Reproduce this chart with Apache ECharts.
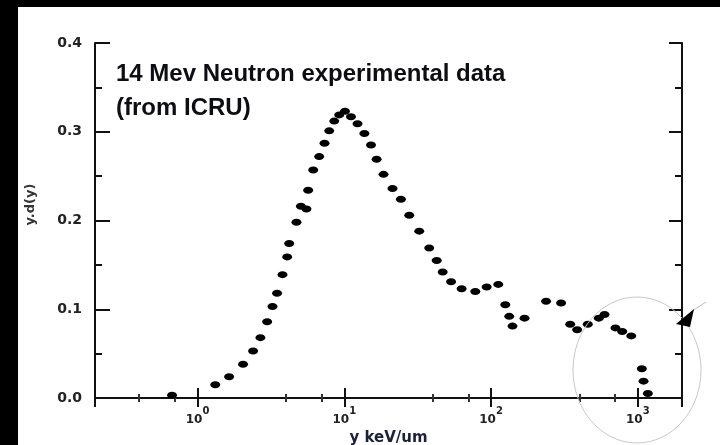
<!DOCTYPE html>
<html>
<head>
<meta charset="utf-8">
<script src="https://cdn.jsdelivr.net/npm/echarts@6/dist/echarts.min.js"></script>
<style>
  html, body { margin: 0; padding: 0; background: #000; }
  #chart { width: 720px; height: 445px; }
</style>
</head>
<body>
<div id="chart"></div>
<script>
// lineal energy y (keV/um)
var lineal = [0.67, 1.32, 1.64, 2.04, 2.39, 2.68, 2.98, 3.24, 3.48, 3.79,
  4.08, 4.21, 4.72, 5.06, 5.52, 5.67, 6.14, 6.74, 7.33, 7.89,
  8.54, 9.23, 10.1, 11.1, 12.3, 13.7, 15.2, 16.6, 18.5, 21.3,
  24.3, 27.7, 32.4, 37.9, 42.6, 46.8, 53.4, 63.0, 78.1, 93.3,
  112, 125, 133, 140, 169, 237, 300, 346, 386, 456,
  542, 593, 704, 783, 902, 1065, 1094, 1170];
// y.d(y)
var ydy = [0.003, 0.015, 0.024, 0.038, 0.053, 0.068, 0.086, 0.103, 0.118, 0.139,
  0.159, 0.174, 0.198, 0.216, 0.213, 0.234, 0.257, 0.272, 0.287, 0.301,
  0.312, 0.319, 0.323, 0.317, 0.309, 0.298, 0.285, 0.269, 0.252, 0.236,
  0.224, 0.206, 0.188, 0.169, 0.155, 0.142, 0.131, 0.123, 0.120, 0.125,
  0.128, 0.105, 0.092, 0.081, 0.090, 0.109, 0.107, 0.083, 0.077, 0.083,
  0.090, 0.094, 0.079, 0.075, 0.070, 0.033, 0.019, 0.005];

var titleText = '14 Mev Neutron experimental data\n(from ICRU)';

var points = lineal.map(function (x, i) { return [x, ydy[i]]; });

var chart = echarts.init(document.getElementById('chart'));

function decadeLabel(v) {
  var e = Math.log10(v);
  var r = Math.round(e);
  if (Math.abs(e - r) > 1e-6) return '';
  return '{b|10}{s|' + r + '}';
}

var axisLineStyle = { color: '#111', width: 2 };
var font = 'DejaVu Sans';

chart.setOption({
  backgroundColor: '#000',
  animation: false,
  title: {
    text: titleText,
    left: 111,
    top: 52,
    textStyle: {
      fontFamily: 'Liberation Sans',
      fontWeight: 'bold',
      fontSize: 24,
      lineHeight: 34,
      color: '#0d0d14'
    }
  },
  grid: { left: 95, right: 38, top: 43, bottom: 47, outerBoundsMode: 'none', containLabel: false },
  xAxis: [
    {
      type: 'log',
      logBase: 10,
      min: 0.2,
      max: 2000,
      name: 'y keV/um',
      nameLocation: 'middle',
      nameGap: 32,
      nameTextStyle: { fontFamily: font, fontWeight: 'bold', fontSize: 15, color: '#1b2238' },
      axisLine: { lineStyle: axisLineStyle },
      axisTick: { inside: true, length: 10, lineStyle: { color: '#111', width: 2 } },
      minorTick: { show: true, splitNumber: 3, length: 4, lineStyle: { color: '#333', width: 2 } },
      splitLine: { show: false },
      axisLabel: {
        margin: 8,
        formatter: decadeLabel,
        rich: {
          b: { fontFamily: font, fontWeight: 'bold', fontSize: 12, color: '#222', lineHeight: 20, verticalAlign: 'bottom' },
          s: { fontFamily: font, fontWeight: 'bold', fontSize: 10, color: '#222', lineHeight: 12, verticalAlign: 'top' }
        }
      }
    },
    {
      type: 'log',
      logBase: 10,
      min: 0.2,
      max: 2000,
      position: 'top',
      axisLine: { lineStyle: axisLineStyle },
      axisTick: { inside: true, length: 9, lineStyle: { color: '#111', width: 2 } },
      minorTick: { show: true, splitNumber: 3, length: 4, lineStyle: { color: '#333', width: 2 } },
      splitLine: { show: false },
      axisLabel: { show: false }
    }
  ],
  yAxis: [
    {
      type: 'value',
      min: 0,
      max: 0.4,
      interval: 0.1,
      name: 'y.d(y)',
      nameLocation: 'middle',
      nameGap: 58,
      nameTextStyle: { fontFamily: font, fontWeight: 'bold', fontSize: 13, color: '#333', padding: [0, 0, 0, 32] },
      axisLine: { show: true, lineStyle: axisLineStyle },
      axisTick: { show: true, inside: true, length: 15, lineStyle: { color: '#111', width: 2 } },
      minorTick: { show: true, splitNumber: 2, length: 7, lineStyle: { color: '#111', width: 2 } },
      splitLine: { show: false },
      axisLabel: {
        margin: 13,
        fontFamily: font,
        fontWeight: 'bold',
        fontSize: 14,
        color: '#222',
        formatter: function (v) { return v.toFixed(1); }
      }
    },
    {
      type: 'value',
      min: 0,
      max: 0.4,
      interval: 0.1,
      position: 'right',
      axisLine: { show: true, lineStyle: axisLineStyle },
      axisTick: { show: true, inside: true, length: 13, lineStyle: { color: '#111', width: 2 } },
      minorTick: { show: true, splitNumber: 2, length: 7, lineStyle: { color: '#111', width: 2 } },
      splitLine: { show: false },
      axisLabel: { show: false }
    }
  ],
  series: [
    {
      type: 'scatter',
      data: points,
      symbol: 'circle',
      symbolSize: [10, 7],
      itemStyle: { color: '#000', opacity: 1 },
      silent: true
    }
  ],
  graphic: [
    {
      type: 'rect',
      z: -100,
      shape: { x: 18, y: 7, width: 702, height: 438 },
      style: { fill: '#fff' }
    },
    {
      type: 'ellipse',
      z: 100,
      shape: { cx: 637, cy: 370, rx: 64, ry: 73 },
      style: { fill: 'none', stroke: '#c8c8c8', lineWidth: 1 }
    },
    {
      type: 'line',
      z: 100,
      shape: { x1: 692, y1: 311, x2: 706, y2: 302 },
      style: { stroke: '#bbb', lineWidth: 1 }
    },
    {
      type: 'polygon',
      z: 101,
      shape: { points: [[694, 309], [676, 324], [690, 327]] },
      style: { fill: '#000' }
    }
  ]
});
</script>
</body>
</html>
